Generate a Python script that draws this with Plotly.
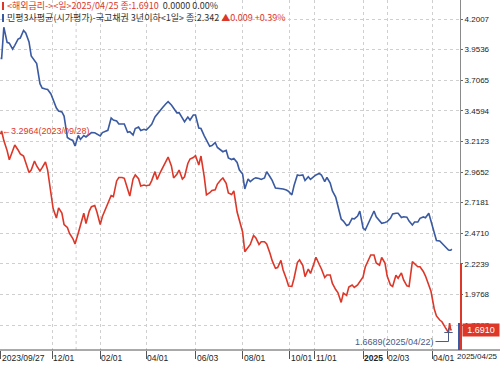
import plotly.graph_objects as go

# ---------------- data ----------------
dates = [
    "2023-09-27", "2023-09-28",
    "2023-10-02", "2023-10-05", "2023-10-09", "2023-10-12", "2023-10-16", "2023-10-19", "2023-10-23", "2023-10-26", "2023-10-30",
    "2023-11-02", "2023-11-06", "2023-11-09", "2023-11-13", "2023-11-16", "2023-11-20", "2023-11-23", "2023-11-27", "2023-11-30",
    "2023-12-04", "2023-12-07", "2023-12-11", "2023-12-14", "2023-12-18", "2023-12-21", "2023-12-25", "2023-12-28",
    "2024-01-01", "2024-01-04", "2024-01-08", "2024-01-11", "2024-01-15", "2024-01-18", "2024-01-22", "2024-01-25", "2024-01-29",
    "2024-02-01", "2024-02-05", "2024-02-08", "2024-02-12", "2024-02-15", "2024-02-19", "2024-02-22", "2024-02-26", "2024-02-29",
    "2024-03-04", "2024-03-07", "2024-03-11", "2024-03-14", "2024-03-18", "2024-03-21", "2024-03-25", "2024-03-28",
    "2024-04-01", "2024-04-04", "2024-04-08", "2024-04-11", "2024-04-15", "2024-04-18", "2024-04-22", "2024-04-25", "2024-04-29",
    "2024-05-02", "2024-05-06", "2024-05-09", "2024-05-13", "2024-05-16", "2024-05-20", "2024-05-23", "2024-05-27", "2024-05-30",
    "2024-06-03", "2024-06-06", "2024-06-10", "2024-06-13", "2024-06-17", "2024-06-20", "2024-06-24", "2024-06-27",
    "2024-07-01", "2024-07-04", "2024-07-08", "2024-07-11", "2024-07-15", "2024-07-18", "2024-07-22", "2024-07-25", "2024-07-29",
    "2024-08-01", "2024-08-05", "2024-08-08", "2024-08-12", "2024-08-15", "2024-08-19", "2024-08-22", "2024-08-26", "2024-08-29",
    "2024-09-02", "2024-09-05", "2024-09-09", "2024-09-12", "2024-09-16", "2024-09-19", "2024-09-23", "2024-09-26", "2024-09-30",
    "2024-10-03", "2024-10-07", "2024-10-10", "2024-10-14", "2024-10-17", "2024-10-21", "2024-10-24", "2024-10-28", "2024-10-31",
    "2024-11-04", "2024-11-07", "2024-11-11", "2024-11-14", "2024-11-18", "2024-11-21", "2024-11-25", "2024-11-28",
    "2024-12-02", "2024-12-05", "2024-12-09", "2024-12-12", "2024-12-16", "2024-12-19", "2024-12-23", "2024-12-26", "2024-12-30",
    "2025-01-02", "2025-01-06", "2025-01-09", "2025-01-13", "2025-01-16", "2025-01-20", "2025-01-23", "2025-01-27", "2025-01-30",
    "2025-02-03", "2025-02-06", "2025-02-10", "2025-02-13", "2025-02-17", "2025-02-20", "2025-02-24", "2025-02-27",
    "2025-03-03", "2025-03-06", "2025-03-10", "2025-03-13", "2025-03-17", "2025-03-20", "2025-03-24", "2025-03-27", "2025-03-31",
    "2025-04-03", "2025-04-07", "2025-04-10", "2025-04-14", "2025-04-17", "2025-04-22", "2025-04-23", "2025-04-24", "2025-04-25",
]

# 민평3사평균(시가평가)-국고채권 3년이하 (blue)
ktb_3y = [
    3.883, 3.883,
    4.134, 4.012, 4.005, 3.958, 3.988, 4.039, 4.047, 4.108, 4.088,
    4.015, 3.902, 3.862, 3.841, 3.678, 3.643, 3.635, 3.631, 3.595,
    3.551, 3.482, 3.458, 3.450, 3.417, 3.244, 3.232, 3.220,
    3.175, 3.260, 3.228, 3.260, 3.248, 3.268, 3.284, 3.282, 3.272,
    3.256, 3.284, 3.294, 3.302, 3.401, 3.385, 3.377, 3.353, 3.353,
    3.353, 3.286, 3.291, 3.264, 3.316, 3.328, 3.300, 3.310,
    3.304, 3.331, 3.351, 3.409, 3.433, 3.459, 3.486, 3.516, 3.533,
    3.506, 3.482, 3.443, 3.444, 3.396, 3.371, 3.409, 3.385, 3.425,
    3.425, 3.320, 3.316, 3.257, 3.224, 3.173, 3.178, 3.203,
    3.163, 3.143, 3.129, 3.140, 3.078, 3.066, 3.074, 3.042, 2.983,
    2.949, 2.828, 2.909, 2.888, 2.910, 2.918, 2.913, 2.905, 2.917,
    2.968, 2.927, 2.898, 2.836, 2.834, 2.828, 2.828, 2.820, 2.808,
    2.780, 2.856, 2.941, 2.937, 2.941, 2.897, 2.927, 2.905, 2.927,
    2.941, 2.953, 2.941, 2.887, 2.921, 2.876, 2.812, 2.763,
    2.695, 2.586, 2.569, 2.533, 2.541, 2.590, 2.586, 2.610, 2.650,
    2.513, 2.497, 2.553, 2.604, 2.650, 2.604, 2.569, 2.551, 2.557,
    2.564, 2.591, 2.626, 2.632, 2.632, 2.598, 2.604, 2.600,
    2.569, 2.537, 2.561, 2.561, 2.591, 2.602, 2.595, 2.632, 2.569,
    2.489, 2.412, 2.408, 2.390, 2.355, 2.335, 2.333, 2.333, 2.342,
]

# 해외금리 (red)
overseas = [
    3.270, 3.2964,
    3.219, 3.138, 3.064, 3.135, 3.183, 3.143, 3.111, 3.094, 3.034,
    2.961, 2.981, 3.054, 3.014, 2.973, 3.000, 3.046, 2.981, 2.796,
    2.670, 2.594, 2.675, 2.634, 2.541, 2.517, 2.469, 2.428,
    2.384, 2.473, 2.537, 2.632, 2.549, 2.650, 2.685, 2.695, 2.642,
    2.541, 2.606, 2.672, 2.711, 2.775, 2.767, 2.893, 2.921, 2.921,
    2.914, 2.836, 2.771, 2.909, 2.941, 2.911, 2.852, 2.860,
    2.854, 2.860, 2.896, 2.968, 2.905, 2.965, 3.002, 3.054, 3.086,
    3.014, 2.917, 2.947, 2.981, 2.909, 2.927, 3.034, 3.070, 3.082,
    3.098, 3.022, 3.094, 2.925, 2.780, 2.798, 2.816, 2.821,
    2.868, 2.901, 2.917, 2.874, 2.796, 2.783, 2.812, 2.642, 2.579,
    2.481, 2.322, 2.360, 2.380, 2.452, 2.435, 2.380, 2.402, 2.402,
    2.384, 2.309, 2.249, 2.188, 2.194, 2.251, 2.174, 2.101, 2.045,
    2.041, 2.107, 2.234, 2.255, 2.210, 2.120, 2.182, 2.146, 2.222,
    2.277, 2.218, 2.182, 2.113, 2.133, 2.133, 2.065, 2.016,
    1.992, 1.912, 1.988, 1.968, 2.037, 2.053, 2.033, 2.053, 2.081,
    2.117, 2.198, 2.255, 2.295, 2.295, 2.230, 2.213, 2.275, 2.230,
    2.125, 2.053, 2.041, 2.131, 2.107, 2.150, 2.093, 2.046,
    2.041, 2.241, 2.226, 2.200, 2.200, 2.162, 2.125, 2.053, 2.002,
    1.859, 1.803, 1.770, 1.756, 1.710, 1.6689, 1.745, 1.691, 1.691,
]

y_ticks = [4.2007, 3.9536, 3.7065, 3.4594, 3.2123, 2.9652, 2.7181, 2.4710, 2.2239, 1.9768, 1.7297]
x_tick_dates = ["2023-09-27", "2023-12-01", "2024-02-01", "2024-04-01", "2024-06-03", "2024-08-01",
                "2024-10-01", "2024-11-01", "2025-01-02", "2025-02-03", "2025-04-01"]
x_tick_text = ["2023/09/27", "12/01", "02/01", "04/01", "06/03", "08/01",
               "10/01", "11/01", "<b>2025</b>", "02/03", "04/01"]
year_grid_dates = ["2024-01-02"]
current_date_text = "2025/04/25"

BLUE = "#3a5aa2"
RED = "#dc3728"
GRID = "#cfcfcf"
TICKFONT = "Liberation Sans"

W, H = 500, 365
ML, MR, MT, MB = 0, 40, 0, 15
PW, PH = W - ML - MR, H - MT - MB

fig = go.Figure()
fig.add_trace(go.Scatter(x=dates, y=ktb_3y, mode="lines", line=dict(color=BLUE, width=1.6),
                         hoverinfo="skip", showlegend=False))
fig.add_trace(go.Scatter(x=dates, y=overseas, mode="lines", line=dict(color=RED, width=1.6),
                         hoverinfo="skip", showlegend=False))

# max / min of the red series
i_max = max(range(len(overseas)), key=lambda i: overseas[i])
i_min = min(range(len(overseas)), key=lambda i: overseas[i])
d_max, v_max = dates[i_max], overseas[i_max]
d_min, v_min = dates[i_min], overseas[i_min]

fig.add_trace(go.Scatter(x=[d_min], y=[v_min], mode="markers",
                         marker=dict(symbol="cross-thin", size=6, line=dict(color="#4a5a85", width=1)),
                         hoverinfo="skip", showlegend=False))

annotations = []
shapes = []

# x tick labels (left aligned at tick)
for d, t in zip(x_tick_dates, x_tick_text):
    annotations.append(dict(x=d, xref="x", y=0, yref="paper", yanchor="top", xanchor="left",
                            text=t, showarrow=False, xshift=-1, yshift=-1,
                            font=dict(family=TICKFONT, size=8.5, color="#222")))
annotations.append(dict(x=456 / PW, xref="paper", y=0, yref="paper", yanchor="top", xanchor="left",
                        text=current_date_text, showarrow=False, yshift=-1, borderpad=0,
                        font=dict(family=TICKFONT, size=8, color="#222")))

for d in year_grid_dates:
    shapes.append(dict(type="line", xref="x", yref="paper", x0=d, x1=d, y0=0, y1=1,
                       line=dict(color=GRID, width=1, dash="dot"), layer="below"))

# bottom axis line across full width
shapes.append(dict(type="line", xref="paper", yref="paper", x0=0, x1=W / PW, y0=0, y1=0,
                   line=dict(color="#555", width=1)))
# right-side markers
shapes.append(dict(type="line", xref="paper", yref="paper", x0=459 / PW, x1=459 / PW, y0=0, y1=27 / PH,
                   line=dict(color=BLUE, width=2)))
shapes.append(dict(type="line", xref="paper", yref="paper", x0=461 / PW, x1=461 / PW, y0=0, y1=87 / PH,
                   line=dict(color=RED, width=2)))

# header legend
last_r, prev_r = overseas[-1], overseas[-2]
last_b, prev_b = ktb_3y[-1], ktb_3y[-2]
chg_r = last_r - prev_r
chg_b = last_b - prev_b
arrow_b = "▲" if chg_b > 0 else ("▼" if chg_b < 0 else "")
line1 = (f"<span style='color:{RED}'>&lt;해외금리-&gt;&lt;일&gt;2025/04/25 종:{last_r:.4f}</span>"
         f"<span style='color:#333'>  {abs(chg_r):.4f} {abs(chg_r) / prev_r * 100:.2f}%</span>")
line2 = (f"<span style='color:#333'>민평3사평균(시가평가)-국고채권 3년이하&lt;1일&gt; 종:{last_b:.3f} </span>"
         f"<span style='color:{RED}'>{arrow_b}{abs(chg_b):.3f} +{chg_b / prev_b * 100:.2f}%</span>")
annotations.append(dict(x=6 / PW, xref="paper", y=1 - 6 / PH, yref="paper", xanchor="left", yanchor="middle",
                        text=line1, showarrow=False, borderpad=0,
                        font=dict(family="Noto Sans CJK KR", size=9, color="#333")))
annotations.append(dict(x=6 / PW, xref="paper", y=1 - 18 / PH, yref="paper", xanchor="left", yanchor="middle",
                        text=line2, showarrow=False, borderpad=0,
                        font=dict(family="Noto Sans CJK KR", size=9, color="#333")))
shapes.append(dict(type="rect", xref="paper", yref="paper", x0=2 / PW, x1=4 / PW,
                   y0=1 - 10 / PH, y1=1 - 2 / PH, fillcolor=RED, line=dict(width=0)))
shapes.append(dict(type="rect", xref="paper", yref="paper", x0=2 / PW, x1=4 / PW,
                   y0=1 - 22 / PH, y1=1 - 14 / PH, fillcolor=BLUE, line=dict(width=0)))

# max label
annotations.append(dict(x=d_max, y=v_max, xref="x", yref="y", xanchor="left", yanchor="middle",
                        text=f"←{v_max:.4f}({d_max.replace('-', '/')})", showarrow=False, xshift=-2,
                        font=dict(family="Liberation Sans", size=9, color=RED)))
# min label
annotations.append(dict(x=d_min, y=v_min, xref="x", yref="y", xanchor="right", yanchor="middle",
                        text=f"{v_min:.4f}({d_min.replace('-', '/')})", showarrow=False, xshift=-13, yshift=-9,
                        font=dict(family="Liberation Sans", size=9, color="#4a5a85")))
shapes.append(dict(type="path", xref="x", yref="y", xsizemode="pixel", ysizemode="pixel",
                   xanchor=d_min, yanchor=v_min, path="M -13,-9 L 0,-9 L 0,0",
                   line=dict(color="#4a5a85", width=1)))

# last value box for red series
annotations.append(dict(x=1, xref="paper", y=last_r, yref="y", xanchor="left", yanchor="middle",
                        text=f"{last_r:.4f}", showarrow=False, xshift=2, bgcolor=RED, borderpad=1,
                        width=34, font=dict(family="Liberation Sans", size=9, color="white")))

fig.update_layout(
    width=W, height=H,
    margin=dict(l=ML, r=MR, t=MT, b=MB, pad=0),
    paper_bgcolor="white", plot_bgcolor="white",
    xaxis=dict(
        type="date",
        range=["2023-09-26 12:00", "2025-05-06 12:00"],
        rangebreaks=[dict(bounds=["sat", "mon"])],
        tickvals=x_tick_dates, showticklabels=False,
        ticks="outside", ticklen=8, tickcolor="#555", tickwidth=1,
        showgrid=True, gridcolor=GRID, griddash="dot", gridwidth=1,
        showline=False, zeroline=False, fixedrange=True,
    ),
    yaxis=dict(
        side="right", range=[1.5278, 4.3541],
        tickvals=y_ticks, ticktext=[f"{v:.4f}" for v in y_ticks],
        ticks="outside", ticklen=2, tickcolor="#666",
        tickfont=dict(family=TICKFONT, size=8, color="#222"),
        showgrid=True, gridcolor=GRID, griddash="dot", gridwidth=1,
        showline=True, linecolor="#8a8a8a", linewidth=1, zeroline=False, fixedrange=True,
    ),
    annotations=annotations,
    shapes=shapes,
)

fig.write_html(
    "out.html",
    config={"displayModeBar": False},
    post_script="document.body.style.margin='0px';document.body.style.overflow='hidden';",
)
